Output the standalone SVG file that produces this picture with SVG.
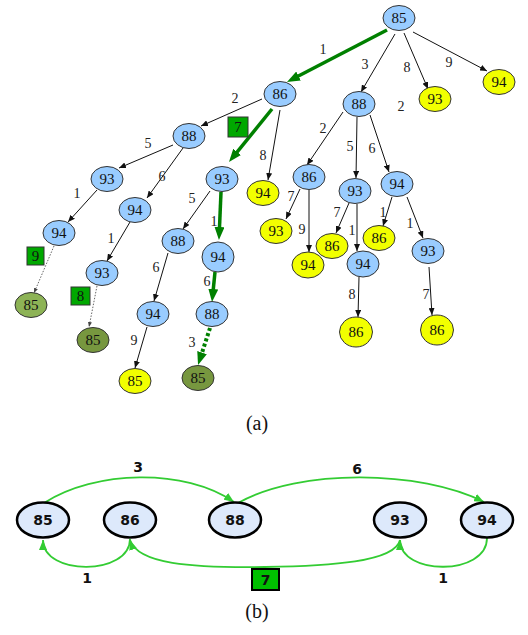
<svg xmlns="http://www.w3.org/2000/svg" width="528" height="635" viewBox="0 0 528 635">
<defs>
<style>
.b{fill:#99ccff;stroke:#333;stroke-width:1}
.y{fill:#f2ff00;stroke:#333;stroke-width:1}
.g1{fill:#8db356;stroke:#333;stroke-width:1}
.g2{fill:#77973f;stroke:#333;stroke-width:1}
.t{font-family:"Liberation Serif",serif;font-size:15px;text-anchor:middle;fill:#111}
.l{font-family:"Liberation Serif",serif;font-size:14px;text-anchor:middle;fill:#222}
.e{stroke:#111;stroke-width:1;fill:none;marker-end:url(#ah)}
.d{stroke:#666;stroke-width:1;stroke-dasharray:1.5 1.5;fill:none;marker-end:url(#ad)}
.gr{stroke:#008000;stroke-width:3.5;fill:none;marker-end:url(#ag)}
.grd{stroke:#008000;stroke-width:4;stroke-dasharray:3 2.5;fill:none;marker-end:url(#ag)}
.box{fill:#00a800;stroke:#333;stroke-width:1}
.bn{fill:#dde9fb;stroke:#000;stroke-width:2.5}
.bt{font-family:"DejaVu Sans",sans-serif;font-weight:bold;font-size:14px;text-anchor:middle;fill:#111}
.arc{stroke:#33cc33;stroke-width:1.8;fill:none;marker-end:url(#aa)}
.cap{font-family:"Liberation Serif",serif;font-size:20px;text-anchor:middle;fill:#111}
</style>
<marker id="ah" markerUnits="userSpaceOnUse" markerWidth="7" markerHeight="6" refX="7" refY="3" orient="auto"><path d="M0,0 L7,3 L0,6 z" fill="#111"/></marker>
<marker id="ad" markerUnits="userSpaceOnUse" markerWidth="5" markerHeight="4" refX="5" refY="2" orient="auto"><path d="M0,0 L5,2 L0,4 z" fill="#444"/></marker>
<marker id="ag" markerUnits="userSpaceOnUse" markerWidth="13" markerHeight="10" refX="5" refY="5" orient="auto"><path d="M0,0 L13,5 L0,10 z" fill="#008000"/></marker>
<marker id="aa" markerUnits="userSpaceOnUse" markerWidth="10" markerHeight="8" refX="10" refY="4" orient="auto"><path d="M0,0 L10,4 L0,8 z" fill="#33cc33"/></marker>
</defs>
<rect width="528" height="635" fill="#fff"/>

<g id="connectors">
<line class="gr" x1="387" y1="30" x2="294.1" y2="78.3"/>
<line class="e" x1="395" y1="34" x2="361" y2="92"/>
<line class="e" x1="404" y1="33" x2="428" y2="89"/>
<line class="e" x1="413" y1="32" x2="487" y2="71"/>
<line class="e" x1="262" y1="99" x2="201" y2="126"/>
<line class="gr" x1="272" y1="109" x2="234" y2="155.8"/>
<line class="e" x1="280" y1="110" x2="268" y2="180"/>
<line class="e" x1="343" y1="112" x2="307" y2="165"/>
<line class="e" x1="357" y1="117" x2="356" y2="178"/>
<line class="e" x1="370" y1="115" x2="389" y2="172"/>
<line class="e" x1="173" y1="145" x2="119" y2="168"/>
<line class="e" x1="183" y1="148" x2="147" y2="198"/>
<line class="e" x1="97" y1="190" x2="68" y2="222"/>
<line class="e" x1="130" y1="222" x2="107" y2="261"/>
<line class="d" x1="54" y1="246" x2="34" y2="293"/>
<line class="d" x1="97" y1="286" x2="89" y2="327"/>
<line class="e" x1="210" y1="191" x2="183" y2="229"/>
<line class="gr" x1="221" y1="192" x2="219.3" y2="232"/>
<line class="gr" x1="215" y1="272" x2="212.8" y2="294"/>
<line class="grd" x1="210" y1="328" x2="200.5" y2="357.4"/>
<line class="e" x1="168" y1="253" x2="154" y2="301"/>
<line class="e" x1="147" y1="327" x2="135" y2="368"/>
<line class="e" x1="300" y1="189" x2="286" y2="219"/>
<line class="e" x1="309" y1="190" x2="309" y2="252"/>
<line class="e" x1="349" y1="203" x2="336" y2="233"/>
<line class="e" x1="357" y1="204" x2="357" y2="251"/>
<line class="e" x1="359" y1="277" x2="358" y2="317"/>
<line class="e" x1="392" y1="197" x2="383" y2="226"/>
<line class="e" x1="407" y1="197" x2="423" y2="238"/>
<line class="e" x1="429" y1="267" x2="432" y2="315"/>

<path class="arc" d="M44,503 C95,470 185,468 234,502"/>
<path class="arc" d="M238,503 C300,468 420,470 484,502"/>
<path class="arc" d="M130,539 C130,576 43,576 43,540"/>
<path class="arc" d="M400,540 C395,562 330,566 265,567 C190,568 138,564 130,540"/>
<path class="arc" d="M487,538 C487,576 400,576 400,540"/>
</g>

<g id="labels">
<text class="l" x="323" y="54">1</text>
<text class="l" x="365" y="69">3</text>
<text class="l" x="407" y="72">8</text>
<text class="l" x="449" y="67">9</text>
<text class="l" x="401" y="111">2</text>
<text class="l" x="235" y="103">2</text>
<text class="l" x="263" y="160">8</text>
<text class="l" x="323" y="133">2</text>
<text class="l" x="350" y="151">5</text>
<text class="l" x="372" y="153">6</text>
<text class="l" x="148" y="148">5</text>
<text class="l" x="162" y="181">6</text>
<text class="l" x="77" y="198">1</text>
<text class="l" x="111" y="243">1</text>
<text class="l" x="192" y="203">5</text>
<text class="l" x="214" y="226">1</text>
<text class="l" x="207" y="286">6</text>
<text class="l" x="192" y="347">3</text>
<text class="l" x="156" y="272">6</text>
<text class="l" x="134" y="345">9</text>
<text class="l" x="291" y="201">7</text>
<text class="l" x="302" y="234">9</text>
<text class="l" x="337" y="217">7</text>
<text class="l" x="352" y="235">1</text>
<text class="l" x="352" y="299">8</text>
<text class="l" x="383" y="217">1</text>
<text class="l" x="410" y="228">1</text>
<text class="l" x="426" y="299">7</text>
<g id="box7"><rect class="box" x="228" y="117" width="20" height="20"/><text class="t" x="238" y="132">7</text></g>
<g id="box9"><rect class="box" x="27" y="247" width="17" height="18"/><text class="t" x="35.5" y="261">9</text></g>
<g id="box8"><rect class="box" x="71" y="287" width="19" height="18"/><text class="t" x="80.5" y="301">8</text></g>
<text class="cap" x="257" y="430">(a)</text>
<text class="bt" x="138" y="472">3</text>
<text class="bt" x="357" y="474">6</text>
<text class="bt" x="87" y="583">1</text>
<text class="bt" x="443" y="583">1</text>
<g id="boxb7"><rect x="252" y="569" width="27" height="21" fill="#00c000" stroke="#000" stroke-width="2"/><text class="bt" x="265.5" y="585">7</text></g>
<text class="cap" x="257" y="618">(b)</text>
</g>

<g id="n1"><ellipse class="b" cx="399" cy="18" rx="16" ry="12.5"/><text class="t" x="399" y="23">85</text></g>
<g id="n2"><ellipse class="b" cx="280" cy="94" rx="16" ry="12.5"/><text class="t" x="280" y="99">86</text></g>
<g id="n3"><ellipse class="b" cx="359" cy="104" rx="16" ry="12.5"/><text class="t" x="359" y="109">88</text></g>
<g id="n4"><ellipse class="y" cx="435" cy="99" rx="16" ry="12.5"/><text class="t" x="435" y="104">93</text></g>
<g id="n5"><ellipse class="y" cx="499" cy="82" rx="16" ry="12.5"/><text class="t" x="499" y="87">94</text></g>
<g id="n6"><ellipse class="b" cx="189" cy="136" rx="16" ry="12.5"/><text class="t" x="189" y="141">88</text></g>
<g id="n7"><ellipse class="b" cx="222" cy="179" rx="16" ry="12.5"/><text class="t" x="222" y="184">93</text></g>
<g id="n8"><ellipse class="y" cx="263" cy="193" rx="16" ry="12.5"/><text class="t" x="263" y="198">94</text></g>
<g id="n9"><ellipse class="b" cx="309" cy="177" rx="16" ry="12.5"/><text class="t" x="309" y="182">86</text></g>
<g id="n10"><ellipse class="b" cx="355" cy="191" rx="16" ry="12.5"/><text class="t" x="355" y="196">93</text></g>
<g id="n11"><ellipse class="b" cx="397" cy="184" rx="16" ry="12.5"/><text class="t" x="397" y="189">94</text></g>
<g id="n12"><ellipse class="b" cx="107" cy="179" rx="16" ry="12.5"/><text class="t" x="107" y="184">93</text></g>
<g id="n13"><ellipse class="b" cx="135" cy="210" rx="16" ry="12.5"/><text class="t" x="135" y="215">94</text></g>
<g id="n14"><ellipse class="b" cx="59" cy="233" rx="16" ry="12.5"/><text class="t" x="59" y="238">94</text></g>
<g id="n15"><ellipse class="b" cx="102" cy="273" rx="16" ry="12.5"/><text class="t" x="102" y="278">93</text></g>
<g id="n16"><ellipse class="g1" cx="31" cy="305" rx="16" ry="12.5"/><text class="t" x="31" y="310">85</text></g>
<g id="n17"><ellipse class="g2" cx="93" cy="340" rx="16" ry="12.5"/><text class="t" x="93" y="345">85</text></g>
<g id="n18"><ellipse class="b" cx="178" cy="241" rx="16" ry="12.5"/><text class="t" x="178" y="246">88</text></g>
<g id="n19"><ellipse class="b" cx="218" cy="257" rx="16" ry="15"/><text class="t" x="218" y="262">94</text></g>
<g id="n20"><ellipse class="b" cx="153" cy="314" rx="16" ry="12.5"/><text class="t" x="153" y="319">94</text></g>
<g id="n21"><ellipse class="b" cx="212" cy="314" rx="16" ry="12.5"/><text class="t" x="212" y="319">88</text></g>
<g id="n22"><ellipse class="y" cx="135" cy="381" rx="16" ry="12.5"/><text class="t" x="135" y="386">85</text></g>
<g id="n23"><ellipse class="g2" cx="198" cy="378" rx="16" ry="12.5"/><text class="t" x="198" y="383">85</text></g>
<g id="n24"><ellipse class="y" cx="276" cy="231" rx="16" ry="12.5"/><text class="t" x="276" y="236">93</text></g>
<g id="n25"><ellipse class="y" cx="308" cy="265" rx="16" ry="13"/><text class="t" x="308" y="270">94</text></g>
<g id="n26"><ellipse class="y" cx="332" cy="246" rx="16" ry="12.5"/><text class="t" x="332" y="251">86</text></g>
<g id="n27"><ellipse class="b" cx="363" cy="264" rx="16" ry="13"/><text class="t" x="363" y="269">94</text></g>
<g id="n28"><ellipse class="y" cx="379" cy="238" rx="16" ry="12.5"/><text class="t" x="379" y="243">86</text></g>
<g id="n29"><ellipse class="b" cx="428" cy="251" rx="16" ry="12.5"/><text class="t" x="428" y="256">93</text></g>
<g id="n30"><ellipse class="y" cx="356" cy="332" rx="16.5" ry="15"/><text class="t" x="356" y="337">86</text></g>
<g id="n31"><ellipse class="y" cx="437" cy="330" rx="16.5" ry="15"/><text class="t" x="437" y="335">86</text></g>

<g id="b85"><ellipse class="bn" cx="43" cy="520" rx="26" ry="17.5"/><text class="bt" x="43" y="525">85</text></g>
<g id="b86"><ellipse class="bn" cx="130" cy="520" rx="26" ry="17.5"/><text class="bt" x="130" y="525">86</text></g>
<g id="b88"><ellipse class="bn" cx="235" cy="520" rx="26" ry="17.5"/><text class="bt" x="235" y="525">88</text></g>
<g id="b93"><ellipse class="bn" cx="400" cy="520" rx="26" ry="17.5"/><text class="bt" x="400" y="525">93</text></g>
<g id="b94"><ellipse class="bn" cx="487" cy="520" rx="26" ry="17.5"/><text class="bt" x="487" y="525">94</text></g>
</svg>
